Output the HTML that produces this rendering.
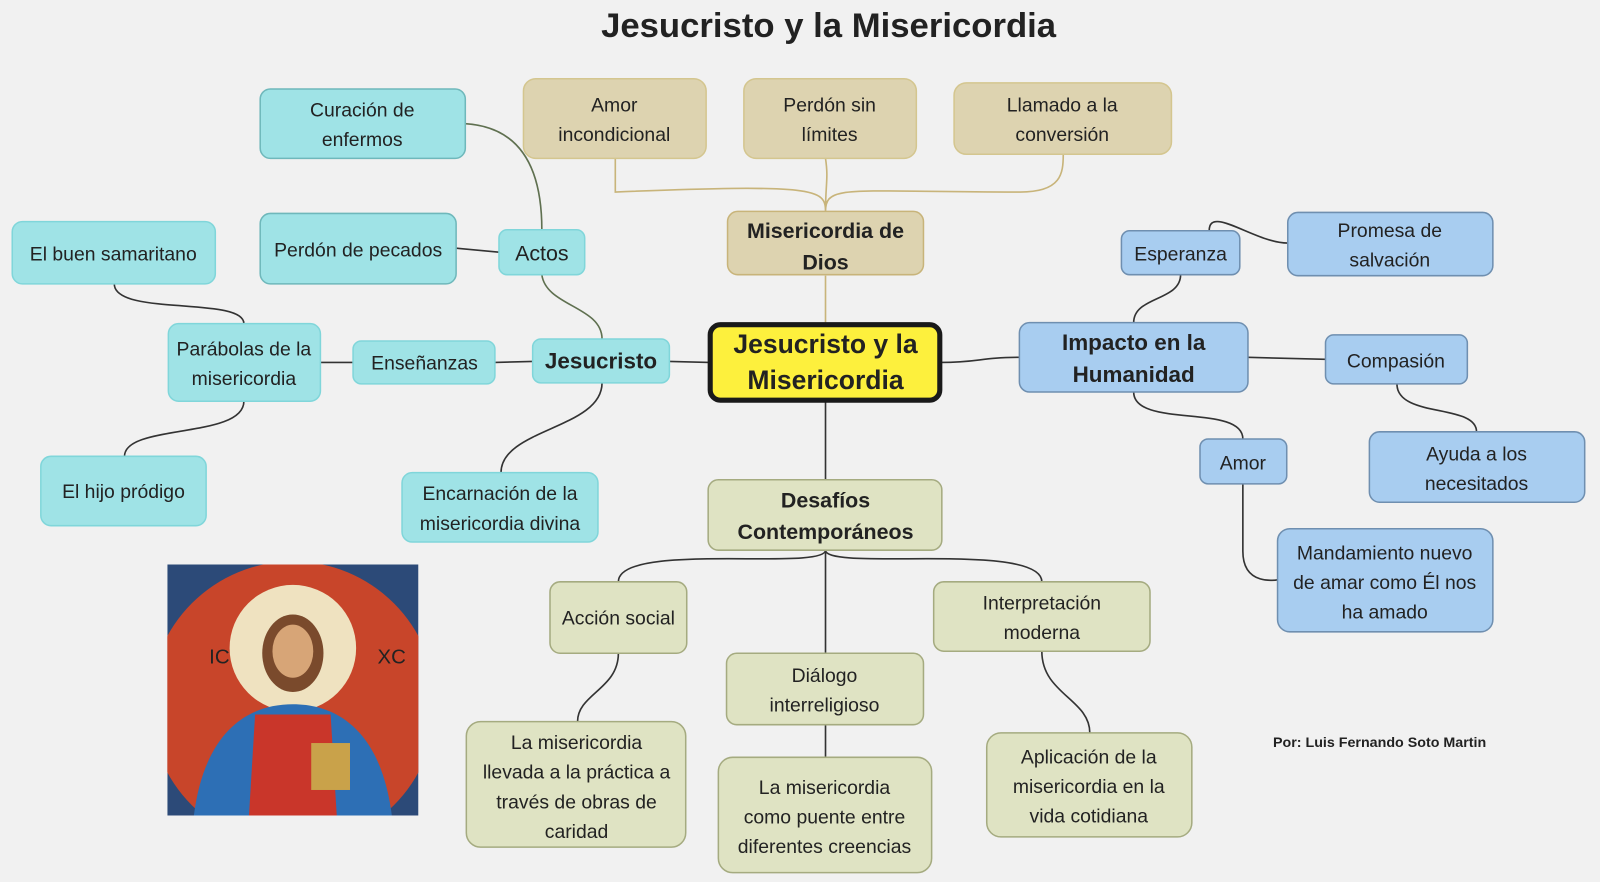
<!DOCTYPE html>
<html><head><meta charset="utf-8"><style>
html,body{margin:0;padding:0;background:#f1f1f1;}
svg{display:block}
text{font-family:"Liberation Sans",sans-serif;fill:#222;}
</style></head><body>
<svg width="1600" height="882" viewBox="0 0 1568 864" xmlns="http://www.w3.org/2000/svg">
<rect width="1568" height="864" fill="#f1f1f1"/>
<text x="812" y="36" text-anchor="middle" font-size="34" font-weight="bold" fill="#1e1e1e">Jesucristo y la Misericordia</text>
<g fill="none" stroke-width="1.6">
<path d="M809 317 V270" stroke="#c8b47a"/>
<path d="M809 207 C809 185 800 180 603 188 C603 170 603 165 603 155 M809 207 C809 180 812 175 809 155 M809 207 C809 180 830 188 1000 188 C1040 188 1042 170 1042 151" stroke="#c8b47a"/>
<path d="M695 355 L656 354" stroke="#333"/>
<path d="M590 332 C590 300 535 300 531 269 M531 225 C531 180 520 125 456 121" stroke="#5f7050"/>
<path d="M489 247 L447 243" stroke="#333"/>
<path d="M522 354 L485 355 M346 355 L314 355" stroke="#333"/>
<path d="M239 317 C239 290 112 310 112 278 M239 393 C239 430 122 415 122 447" stroke="#333"/>
<path d="M590 375 C590 420 491 420 491 463" stroke="#333"/>
<path d="M922 355 C960 355 960 350 999 350" stroke="#333"/>
<path d="M1111 316 C1111 290 1157 295 1157 269 M1185 226 C1185 200 1230 238 1262 238" stroke="#333"/>
<path d="M1223 350 L1299 352 M1369 376 C1369 410 1447 395 1447 423" stroke="#333"/>
<path d="M1111 384 C1111 420 1218 395 1218 430 M1218 474 V540 C1218 575 1252 568 1252 568" stroke="#333"/>
<path d="M809 393 V470" stroke="#333"/>
<path d="M809 539 C809 560 606 530 606 570 M809 539 C809 560 1021 530 1021 570 M809 539 V640 M809 710 V742" stroke="#333"/>
<path d="M606 640 C606 675 566 680 566 707 M1021 638 C1021 680 1068 685 1068 718" stroke="#333"/>
</g>
<g font-size="19" text-anchor="middle">
<g stroke-width="1.5">
<rect x="255" y="87" width="201" height="68" rx="10" fill="#9fe3e6" stroke="#6fb8bb"/>
<rect x="12" y="217" width="199" height="61" rx="10" fill="#9fe3e6" stroke="#80d6da"/>
<rect x="255" y="209" width="192" height="69" rx="10" fill="#9fe3e6" stroke="#6fb8bb"/>
<rect x="489" y="225" width="84" height="44" rx="8" fill="#9fe3e6" stroke="#80d6da"/>
<rect x="165" y="317" width="149" height="76" rx="10" fill="#9fe3e6" stroke="#80d6da"/>
<rect x="346" y="334" width="139" height="42" rx="8" fill="#9fe3e6" stroke="#80d6da"/>
<rect x="522" y="332" width="134" height="43" rx="8" fill="#9fe3e6" stroke="#80d6da"/>
<rect x="40" y="447" width="162" height="68" rx="10" fill="#9fe3e6" stroke="#80d6da"/>
<rect x="394" y="463" width="192" height="68" rx="10" fill="#9fe3e6" stroke="#80d6da"/>
<rect x="513" y="77" width="179" height="78" rx="12" fill="#ddd3b0" stroke="#d4c68f"/>
<rect x="729" y="77" width="169" height="78" rx="12" fill="#ddd3b0" stroke="#d4c68f"/>
<rect x="935" y="81" width="213" height="70" rx="12" fill="#ddd3b0" stroke="#d4c68f"/>
<rect x="713" y="207" width="192" height="62" rx="10" fill="#ddd3b0" stroke="#c8b47a"/>
<rect x="1262" y="208" width="201" height="62" rx="10" fill="#a8cdf0" stroke="#6f8fb0"/>
<rect x="1099" y="226" width="116" height="43" rx="8" fill="#a8cdf0" stroke="#6f8fb0"/>
<rect x="999" y="316" width="224" height="68" rx="10" fill="#a8cdf0" stroke="#6f8fb0"/>
<rect x="1299" y="328" width="139" height="48" rx="8" fill="#a8cdf0" stroke="#6f8fb0"/>
<rect x="1342" y="423" width="211" height="69" rx="10" fill="#a8cdf0" stroke="#6f8fb0"/>
<rect x="1176" y="430" width="85" height="44" rx="8" fill="#a8cdf0" stroke="#6f8fb0"/>
<rect x="1252" y="518" width="211" height="101" rx="12" fill="#a8cdf0" stroke="#6f8fb0"/>
<rect x="694" y="470" width="229" height="69" rx="10" fill="#dfe3c3" stroke="#a5ab80"/>
<rect x="539" y="570" width="134" height="70" rx="10" fill="#dfe3c3" stroke="#a5ab80"/>
<rect x="915" y="570" width="212" height="68" rx="10" fill="#dfe3c3" stroke="#a5ab80"/>
<rect x="712" y="640" width="193" height="70" rx="10" fill="#dfe3c3" stroke="#a5ab80"/>
<rect x="457" y="707" width="215" height="123" rx="14" fill="#dfe3c3" stroke="#a5ab80"/>
<rect x="704" y="742" width="209" height="113" rx="14" fill="#dfe3c3" stroke="#a5ab80"/>
<rect x="967" y="718" width="201" height="102" rx="14" fill="#dfe3c3" stroke="#a5ab80"/>
<rect x="696" y="318" width="225" height="74" rx="10" fill="#fdf03d" stroke="#1a1a1a" stroke-width="5"/>
</g>
<text x="355" y="114">Curación de</text><text x="355" y="143">enfermos</text>
<text x="111" y="255">El buen samaritano</text>
<text x="351" y="251">Perdón de pecados</text>
<text x="531" y="255" font-size="21">Actos</text>
<text x="239" y="348">Parábolas de la</text><text x="239" y="377">misericordia</text>
<text x="416" y="362">Enseñanzas</text>
<text x="589" y="361" font-size="22" font-weight="bold">Jesucristo</text>
<text x="121" y="488">El hijo pródigo</text>
<text x="490" y="490">Encarnación de la</text><text x="490" y="519">misericordia divina</text>
<text x="602" y="109">Amor</text><text x="602" y="138">incondicional</text>
<text x="813" y="109">Perdón sin</text><text x="813" y="138">límites</text>
<text x="1041" y="109">Llamado a la</text><text x="1041" y="138">conversión</text>
<text x="809" y="233" font-size="21" font-weight="bold">Misericordia de</text><text x="809" y="264" font-size="21" font-weight="bold">Dios</text>
<text x="1362" y="232">Promesa de</text><text x="1362" y="261">salvación</text>
<text x="1157" y="255">Esperanza</text>
<text x="1111" y="343" font-size="22" font-weight="bold">Impacto en la</text><text x="1111" y="374" font-size="22" font-weight="bold">Humanidad</text>
<text x="1368" y="360">Compasión</text>
<text x="1447" y="451">Ayuda a los</text><text x="1447" y="480">necesitados</text>
<text x="1218" y="460">Amor</text>
<text x="1357" y="548">Mandamiento nuevo</text><text x="1357" y="577">de amar como Él nos</text><text x="1357" y="606">ha amado</text>
<text x="809" y="497" font-size="21" font-weight="bold">Desafíos</text><text x="809" y="528" font-size="21" font-weight="bold">Contemporáneos</text>
<text x="606" y="612">Acción social</text>
<text x="1021" y="597">Interpretación</text><text x="1021" y="626">moderna</text>
<text x="808" y="668">Diálogo</text><text x="808" y="697">interreligioso</text>
<text x="565" y="734">La misericordia</text><text x="565" y="763">llevada a la práctica a</text><text x="565" y="792">través de obras de</text><text x="565" y="821">caridad</text>
<text x="808" y="778">La misericordia</text><text x="808" y="807">como puente entre</text><text x="808" y="836">diferentes creencias</text>
<text x="1067" y="748">Aplicación de la</text><text x="1067" y="777">misericordia en la</text><text x="1067" y="806">vida cotidiana</text>
<text x="809" y="346" font-size="26" font-weight="bold">Jesucristo y la</text><text x="809" y="381" font-size="26" font-weight="bold">Misericordia</text>
</g>
<text x="1352" y="732" text-anchor="middle" font-size="14" font-weight="bold">Por: Luis Fernando Soto Martin</text>
<g>
<clipPath id="c"><rect x="164" y="553" width="246" height="246"/></clipPath>
<g clip-path="url(#c)">
<rect x="164" y="553" width="246" height="246" fill="#2c4a78"/>
<circle cx="287" cy="690" r="140" fill="#c8452a"/>
<circle cx="287" cy="635" r="62" fill="#efe2c0"/>
<path d="M190 799 C200 720 240 690 287 690 C334 690 374 720 384 799 Z" fill="#2d6fb5"/>
<path d="M250 700 L324 700 L330 799 L244 799 Z" fill="#c9362a"/>
<ellipse cx="287" cy="640" rx="30" ry="38" fill="#7a4a2c"/>
<ellipse cx="287" cy="638" rx="20" ry="26" fill="#d7a577"/>
<rect x="305" y="728" width="38" height="46" fill="#c9a24a"/>
<text x="205" y="650" font-size="20" fill="#f4e8c8">IC</text>
<text x="370" y="650" font-size="20" fill="#f4e8c8">XC</text>
</g>
</g>
</svg>
</body></html>
